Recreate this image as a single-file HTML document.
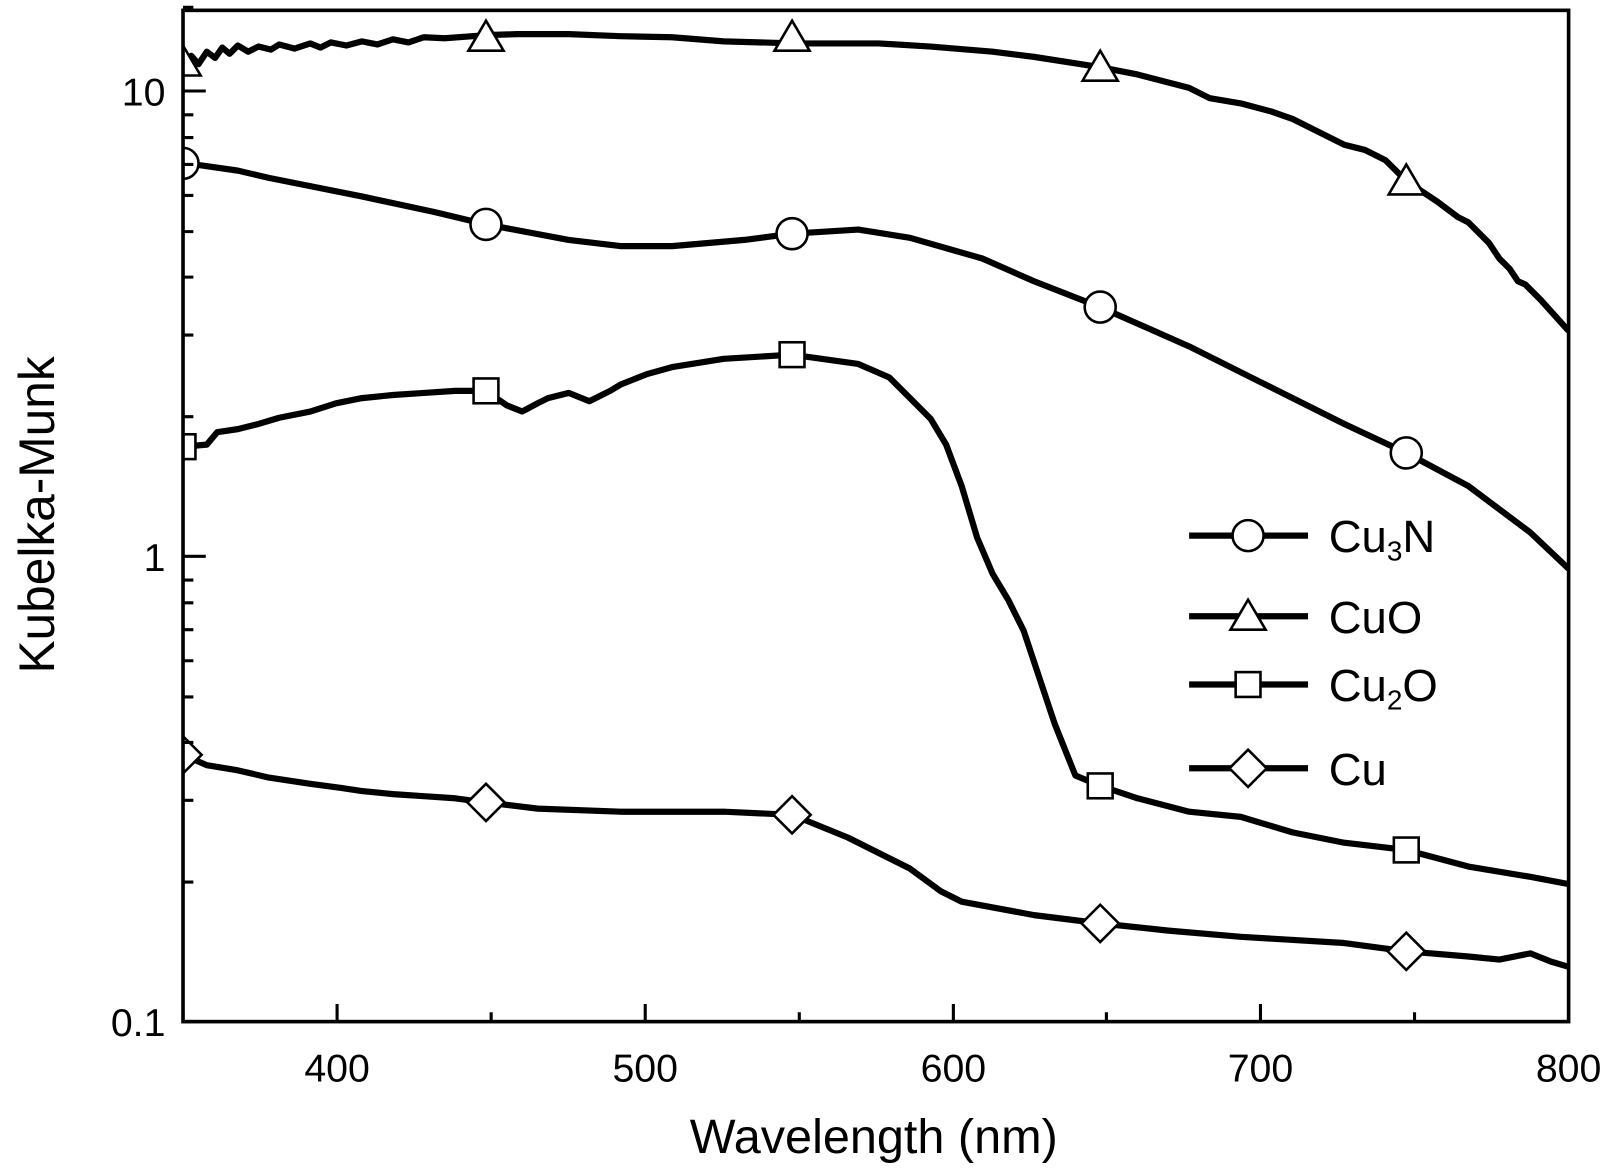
<!DOCTYPE html>
<html><head><meta charset="utf-8"><style>html,body{margin:0;padding:0;background:#fff}svg{display:block}</style></head>
<body>
<svg width="1623" height="1176" viewBox="0 0 1569.6 1137.3" xmlns="http://www.w3.org/2000/svg" font-family="'Liberation Sans', 'Noto Sans CJK JP', sans-serif">
<defs><clipPath id="c"><rect x="177" y="10" width="1340" height="978"/></clipPath></defs>
<g clip-path="url(#c)" fill="none" stroke="#000" stroke-width="6" stroke-linejoin="round">
<polyline points="177,60 185,54 192,62 200,50 208,56 215,46 222,52 230,44 240,50 250,45 262,48 270,43 285,47 300,42 310,46 320,41 335,44 350,40 365,43 380,38 395,41 410,36 430,37 470,34 500,33 550,33 600,35 650,36 700,40 770,42 850,42 900,45 960,50 1000,55 1064,65 1100,72 1150,85 1170,95 1200,100 1230,108 1250,115 1270,125 1300,140 1320,145 1340,155 1360,175 1390,195 1410,210 1420,215 1440,235 1450,250 1460,260 1468,272 1475,275 1490,290 1517,320"/>
<polyline points="177,158 195,160 230,165 260,172 300,180 350,190 420,205 470,217 550,232 600,238 650,238 720,232 766,226 830,222 880,230 950,250 1000,272 1064,297 1150,335 1220,370 1300,410 1360,438 1420,470 1480,515 1517,550"/>
<polyline points="177,432 200,430 210,418 230,415 250,410 270,404 300,398 325,390 350,385 380,382 410,380 440,378 470,378 490,392 505,398 520,390 530,385 550,380 570,388 590,378 600,372 625,362 650,355 700,347 766,343 830,352 860,365 880,385 900,405 915,430 930,470 945,520 960,555 975,580 990,610 1000,640 1010,670 1020,700 1030,725 1040,750 1064,760 1100,772 1150,785 1200,790 1250,805 1300,815 1360,822 1420,838 1480,848 1517,855"/>
<polyline points="177,730 200,740 230,745 260,752 300,758 330,762 350,765 380,768 410,770 440,772 470,776 520,782 600,785 700,785 766,788 820,810 880,840 910,862 930,872 1000,885 1064,893 1130,900 1200,906 1300,912 1360,920 1420,925 1450,928 1480,922 1500,930 1517,935"/>
</g>
<g clip-path="url(#c)" fill="#fff" stroke="#000" stroke-width="2.5">
<polygon points="177,44 194,73 160,73"/><polygon points="470,20 487,49 453,49"/><polygon points="766,20 783,49 749,49"/><polygon points="1064,49 1081,78 1047,78"/><polygon points="1360,159 1377,188 1343,188"/>
<circle cx="177" cy="158" r="15"/><circle cx="470" cy="217" r="15"/><circle cx="766" cy="226" r="15"/><circle cx="1064" cy="297" r="15"/><circle cx="1360" cy="438" r="15"/>
<rect x="165" y="420" width="24" height="24"/><rect x="458" y="366" width="24" height="24"/><rect x="754" y="331" width="24" height="24"/><rect x="1052" y="748" width="24" height="24"/><rect x="1348" y="810" width="24" height="24"/>
<polygon points="177,712 195,730 177,748 159,730"/><polygon points="470,758 488,776 470,794 452,776"/><polygon points="766,770 784,788 766,806 748,788"/><polygon points="1064,875 1082,893 1064,911 1046,893"/><polygon points="1360,902 1378,920 1360,938 1342,920"/>
</g>
<rect x="177" y="10" width="1340" height="978" fill="none" stroke="#000" stroke-width="3.5"/>
<g stroke="#000" stroke-width="3">
<path d="M326,988v-17M624,988v-17M922,988v-17M1219,988v-17M177,988v-9M475,988v-9M773,988v-9M1070,988v-9M1368,988v-9"/>
<path d="M177,88h22M177,538h22M177,988h22"/>
<path d="M177,853h10M177,774h10M177,718h10M177,674h10M177,639h10M177,609h10M177,583h10M177,561h10M177,403h10M177,324h10M177,268h10M177,224h10M177,189h10M177,159h10M177,133h10M177,111h10M177,7h10"/>
</g>
<g font-size="38" fill="#000">
<text x="160" y="102" text-anchor="end">10</text>
<text x="160" y="552" text-anchor="end">1</text>
<text x="160" y="1002" text-anchor="end">0.1</text>
<g text-anchor="middle"><text x="326" y="1046">400</text><text x="624" y="1046">500</text><text x="922" y="1046">600</text><text x="1219" y="1046">700</text><text x="1517" y="1046">800</text></g>
</g>
<text x="845" y="1115" font-size="47" text-anchor="middle">Wavelength (nm)</text>
<text transform="translate(52,498) rotate(-90)" font-size="48" text-anchor="middle">Kubelka-Munk</text>
<g stroke="#000" stroke-width="6"><path d="M1150,518h115M1150,596h115M1150,662h115M1150,743h115"/></g>
<g fill="#fff" stroke="#000" stroke-width="2.5">
<circle cx="1207" cy="518" r="15"/>
<polygon points="1207,580 1224,609 1190,609"/>
<rect x="1195" y="650" width="24" height="24"/>
<polygon points="1207,725 1225,743 1207,761 1189,743"/>
</g>
<g font-size="44" fill="#000">
<text x="1285" y="534">Cu<tspan font-size="27" dy="8">3</tspan><tspan dy="-8">N</tspan></text>
<text x="1285" y="612">CuO</text>
<text x="1285" y="678">Cu<tspan font-size="27" dy="8">2</tspan><tspan dy="-8">O</tspan></text>
<text x="1285" y="759">Cu</text>
</g>
</svg>
</body></html>
